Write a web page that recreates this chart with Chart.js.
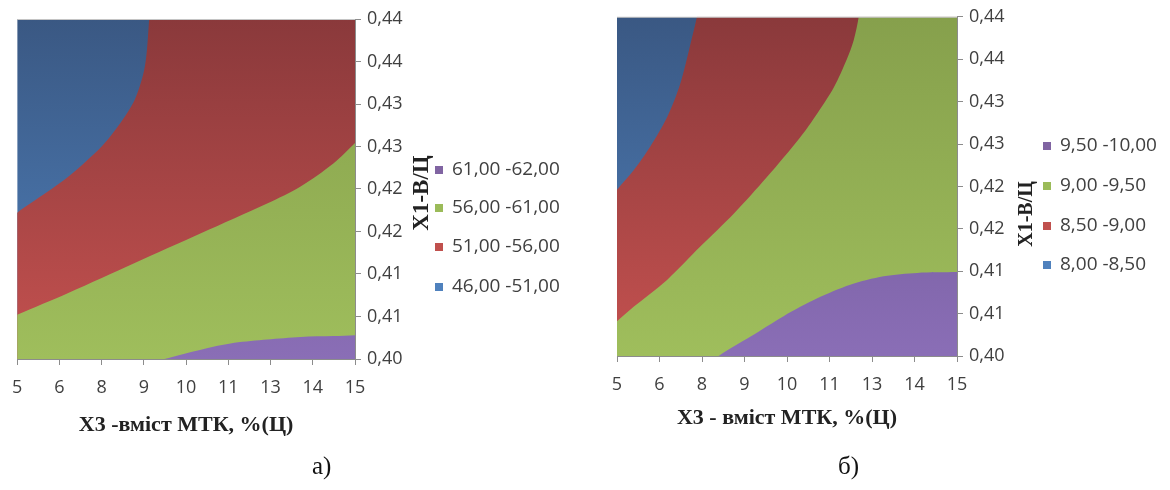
<!DOCTYPE html>
<html>
<head>
<meta charset="utf-8">
<script src="https://cdn.jsdelivr.net/npm/chart.js@4"></script>
<style>
  body { margin: 0; background: #fff; width: 1170px; height: 490px; position: relative; overflow: hidden; }
  .box { position: absolute; top: 0; width: 585px; height: 490px; }
  .cap { position: absolute; top: 452px; font: 25px "Liberation Serif", serif; color: #111; }
</style>
</head>
<body>
<div class="box" style="left:0"><canvas id="chartA"></canvas></div>
<div class="box" style="left:585px"><canvas id="chartB"></canvas></div>
<div class="cap" style="left:312px">а)</div>
<div class="cap" style="left:838px">б)</div>
<script>
// axis labels (Excel rounds 5, 6.25, 7.5 ... 15 and 0.400, 0.405 ... 0.440)
const xTicks = ['5', '6', '8', '9', '10', '11', '13', '14', '15'];
const yTicks = ['0,40', '0,41', '0,41', '0,42', '0,42', '0,43', '0,43', '0,44', '0,44'];
const xTitleA = 'Х3 -вміст МТК, %(Ц)';
const xTitleB = 'Х3 - вміст МТК, %(Ц)';
const yTitle = 'Х1-В/Ц';
const legendA = ['61,00 -62,00', '56,00 -61,00', '51,00 -56,00', '46,00 -51,00'];
const legendB = ['9,50 -10,00', '9,00 -9,50', '8,50 -9,00', '8,00 -8,50'];

// chart а) - contour boundaries (points past the frame are clipped)
const aBlueRedX = [4.80, 5.00, 5.54, 6.53, 7.50, 7.99, 8.48, 8.78, 8.91, 8.95, 15.00];
const aBlueRedY = [0.4161, 0.4172, 0.4187, 0.4215, 0.4250, 0.4274, 0.4305, 0.4344, 0.4400, 0.4420, 0.4420];
const aRedGreenX = [4.80, 5.00, 6.53, 8.48, 10.44, 12.40, 13.39, 14.36, 15.00, 15.20];
const aRedGreenY = [0.4048, 0.4052, 0.4078, 0.4113, 0.4148, 0.4183, 0.4203, 0.4230, 0.4254, 0.4262];
const aGreenPurpleX = [5.00, 8.90, 9.36, 10.44, 11.43, 12.40, 13.39, 14.36, 15.00, 15.20];
const aGreenPurpleY = [0.3980, 0.3994, 0.4000, 0.4011, 0.4019, 0.4023, 0.4026, 0.4027, 0.4028, 0.4028];

// chart б) - contour boundaries
const bBlueRedX = [4.80, 5.00, 5.49, 5.98, 6.48, 6.86, 7.16, 7.35, 7.42, 15.00];
const bBlueRedY = [0.4185, 0.4196, 0.4219, 0.4247, 0.4282, 0.4321, 0.4368, 0.4400, 0.4420, 0.4420];
const bRedGreenX = [4.80, 5.00, 5.49, 6.48, 7.45, 8.44, 9.41, 10.39, 10.89, 11.38, 11.76, 11.96, 12.11, 12.16, 15.00];
const bRedGreenY = [0.4033, 0.4041, 0.4058, 0.4090, 0.4129, 0.4168, 0.4211, 0.4258, 0.4286, 0.4317, 0.4350, 0.4372, 0.4400, 0.4420, 0.4420];
const bGreenPurpleX = [5.00, 7.60, 7.99, 8.93, 9.90, 10.89, 11.86, 12.84, 13.83, 15.00, 15.20];
const bGreenPurpleY = [0.3960, 0.3985, 0.4000, 0.4023, 0.4047, 0.4068, 0.4084, 0.4094, 0.4098, 0.4099, 0.4099];

const topX = [5, 15];
const topY = [0.44, 0.44];

const legendColors = ['#8064a2', '#9bbb59', '#c0504d', '#4f81bd'];

Chart.defaults.font.family = '"Open Sans", sans-serif';

function pts(xs, ys) {
  return xs.map((x, i) => ({ x: x, y: ys[i] }));
}

function shade(top, bottom) {
  return ctx => {
    const area = ctx.chart.chartArea;
    if (!area) return bottom;
    const g = ctx.chart.ctx.createLinearGradient(0, area.top, 0, area.bottom);
    g.addColorStop(0, top);
    g.addColorStop(1, bottom);
    return g;
  };
}

function band(label, xs, ys, top, bottom) {
  return {
    label: label,
    data: pts(xs, ys),
    fill: 'start',
    backgroundColor: shade(top, bottom),
    borderWidth: 0,
    pointRadius: 0,
    tension: 0.3
  };
}

const extras = {
  id: 'extras',
  afterDraw(chart, args, o) {
    const { ctx, chartArea: a } = chart;
    ctx.save();
    ctx.strokeStyle = '#c4c4c4';
    ctx.lineWidth = 1;
    ctx.beginPath();
    ctx.moveTo(a.left, a.top + 0.5);
    ctx.lineTo(a.right, a.top + 0.5);
    ctx.stroke();

    ctx.translate(o.titleX, o.titleY);
    ctx.rotate(-Math.PI / 2);
    ctx.font = 'bold ' + o.titleSize + 'px "Liberation Serif"';
    ctx.fillStyle = '#222';
    ctx.textAlign = 'center';
    ctx.textBaseline = 'middle';
    ctx.fillText(yTitle, 0, 0);
    ctx.restore();

    ctx.save();
    ctx.font = '19px "Open Sans"';
    ctx.textAlign = 'left';
    ctx.textBaseline = 'middle';
    o.labels.forEach((t, i) => {
      const y = o.legendY[i];
      ctx.fillStyle = legendColors[i];
      ctx.fillRect(o.legendX, y - 4, 8, 8);
      ctx.fillStyle = '#404040';
      ctx.fillText(t, o.legendX + 17, y);
    });
    ctx.restore();
  }
};

function makeChart(id, sets, cfg) {
  new Chart(document.getElementById(id), {
    type: 'line',
    data: { datasets: sets },
    plugins: [extras],
    options: {
      responsive: true,
      maintainAspectRatio: false,
      animation: false,
      layout: { padding: cfg.padding },
      plugins: {
        legend: { display: false },
        tooltip: { enabled: false },
        extras: cfg.extras
      },
      scales: {
        x: {
          type: 'linear',
          min: 5,
          max: 15,
          ticks: {
            stepSize: 1.25,
            autoSkip: false,
            maxRotation: 0,
            padding: 12,
            color: '#404040',
            font: { size: 18 },
            callback: (v, i) => xTicks[i]
          },
          grid: { drawOnChartArea: false, tickLength: 6, color: '#8c8c8c' },
          border: { color: '#8c8c8c' },
          title: {
            display: true,
            text: cfg.xTitle,
            color: '#222',
            padding: 0,
            font: { family: '"Liberation Serif", serif', weight: 'bold', size: 22 }
          },
          afterFit: s => { s.height = cfg.xHeight; }
        },
        y: {
          type: 'linear',
          position: 'right',
          min: 0.40,
          max: 0.44,
          ticks: {
            stepSize: 0.005,
            padding: 6,
            color: '#404040',
            font: { size: 18 },
            callback: (v, i) => yTicks[i]
          },
          grid: { drawOnChartArea: false, tickLength: 6, color: '#8c8c8c' },
          border: { color: '#8c8c8c' },
          afterFit: s => { s.width = 70; }
        }
      }
    }
  });
}

makeChart('chartA', [
  band(legendA[0], aGreenPurpleX, aGreenPurpleY, '#6a5290', '#8a6eb6'),
  band(legendA[1], aRedGreenX, aRedGreenY, '#86a04c', '#9fbe5c'),
  band(legendA[2], aBlueRedX, aBlueRedY, '#8a393b', '#c4514f'),
  band(legendA[3], topX, topY, '#3a5883', '#4f80bb')
], {
  padding: { left: 15, top: 19, right: 160, bottom: 51.8 },
  xHeight: 79.2,
  xTitle: xTitleA,
  extras: { titleX: 422, titleY: 193, titleSize: 23, labels: legendA, legendX: 435, legendY: [170, 208, 247, 287] }
});

makeChart('chartB', [
  band(legendB[0], bGreenPurpleX, bGreenPurpleY, '#6a5290', '#8a6eb6'),
  band(legendB[1], bRedGreenX, bRedGreenY, '#86a04c', '#9fbe5c'),
  band(legendB[2], bBlueRedX, bBlueRedY, '#8a393b', '#c4514f'),
  band(legendB[3], topX, topY, '#3a5883', '#4f80bb')
], {
  padding: { left: 32, top: 16, right: 143, bottom: 58.8 },
  xHeight: 75.2,
  xTitle: xTitleB,
  extras: { titleX: 442, titleY: 214, titleSize: 20, labels: legendB, legendX: 458, legendY: [146, 186, 226, 265] }
});
</script>
</body>
</html>
